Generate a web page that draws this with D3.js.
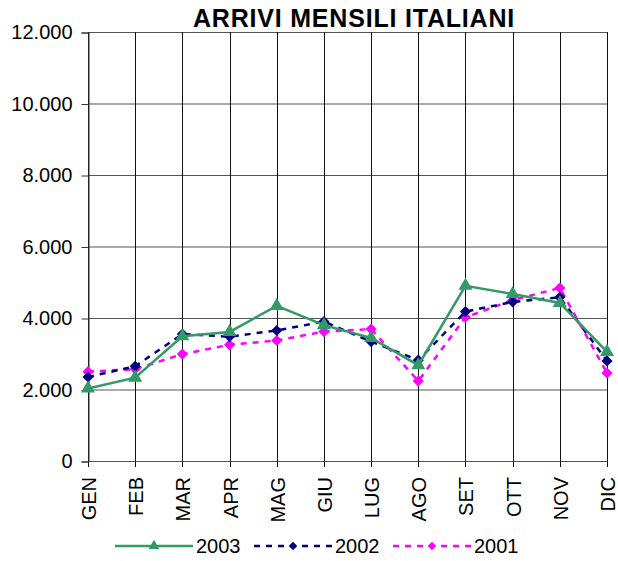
<!DOCTYPE html>
<html><head><meta charset="utf-8">
<script src="https://cdn.jsdelivr.net/npm/d3@7"></script>
<style>body{margin:0;background:#fff}svg{display:block}text{font-family:"Liberation Sans",Arial,sans-serif}</style>
</head><body>
<svg id="c" width="618" height="561"></svg>
<script>
const categories = ["GEN","FEB","MAR","APR","MAG","GIU","LUG","AGO","SET","OTT","NOV","DIC"];
const s2003 = [2030,2330,3490,3610,4340,3800,3440,2680,4900,4670,4420,3050];
const s2002 = [2350,2650,3550,3480,3650,3900,3340,2820,4180,4450,4580,2800];
const s2001 = [2500,2570,2990,3250,3370,3620,3690,2240,4020,4500,4840,2460];
const yTicks = [0,2000,4000,6000,8000,10000,12000];
const title = "ARRIVI MENSILI ITALIANI";

const series = [
  {name:"2003", values:s2003, color:"#339966", dash:null, marker:"tri"},
  {name:"2002", values:s2002, color:"#000080", dash:"6,6", marker:"dia"},
  {name:"2001", values:s2001, color:"#FF00FF", dash:"6,6", marker:"dia"}
];

const svg = d3.select("#c");
const L=88, R=607, T=32, B=461;
const x = d3.scalePoint().domain(categories).range([L,R]);
const y = d3.scaleLinear().domain([0,12000]).range([B,T]);
const fmt = v => d3.format(",")(v).replace(/,/g,".");

svg.append("text").attr("x",354).attr("y",27).attr("text-anchor","middle")
  .attr("font-size",25).attr("letter-spacing","0.8px").attr("font-weight","bold").text(title);

// gridlines
svg.append("g").selectAll("line").data(yTicks).join("line")
  .attr("x1",L).attr("x2",R).attr("y1",d=>y(d)+0.5).attr("y2",d=>y(d)+0.5)
  .attr("stroke","#555").attr("stroke-width",1);
svg.append("g").selectAll("line").data(categories).join("line")
  .attr("x1",d=>Math.round(x(d))+0.5).attr("x2",d=>Math.round(x(d))+0.5)
  .attr("y1",T).attr("y2",B+6).attr("stroke","#111").attr("stroke-width",1);

// y axis
const ya = svg.append("g").attr("transform",`translate(${L+0.5},0.5)`)
  .call(d3.axisLeft(y).tickValues(yTicks).tickFormat(fmt).tickSize(7).tickPadding(9));
ya.select(".domain").attr("stroke","#333");
ya.selectAll(".tick line").attr("stroke","#333");
ya.selectAll("text").attr("font-size",20).attr("fill","#000").attr("font-family","Liberation Sans, Arial, sans-serif");

// x labels
svg.append("g").selectAll("text").data(categories).join("text")
  .attr("transform",d=>`translate(${x(d)+8},${477}) rotate(-90)`)
  .attr("text-anchor","end").attr("font-size",20).text(d=>d);

const line = d3.line().x((d,i)=>x(categories[i])).y(d=>y(d));
const tri = d3.symbol().type(d3.symbolTriangle).size(85);
const sq = d3.symbol().type(d3.symbolSquare).size(62);

// draw in reverse order so 2003 on top
[...series].reverse().forEach(s=>{
  const g = svg.append("g");
  g.append("path").datum(s.values).attr("d",line).attr("fill","none")
    .attr("stroke",s.color).attr("stroke-width",2.5).attr("stroke-dasharray",s.dash);
  g.selectAll("path.m").data(s.values).join("path").attr("class","m")
    .attr("transform",(d,i)=>`translate(${x(categories[i])},${y(d)})` + (s.marker==="dia"?" rotate(45)":""))
    .attr("d", s.marker==="tri"?tri:sq).attr("fill",s.color);
});

// legend
const lx = [115,254,393];
series.forEach((s,i)=>{
  const g = svg.append("g").attr("transform",`translate(${lx[i]},546)`);
  g.append("line").attr("x1",0).attr("x2",78).attr("y1",0).attr("y2",0)
    .attr("stroke",s.color).attr("stroke-width",2.5).attr("stroke-dasharray",s.dash);
  g.append("path").attr("transform","translate(39,0)" + (s.marker==="dia"?" rotate(45)":""))
    .attr("d", (s.marker==="tri"?d3.symbol().type(d3.symbolTriangle).size(50):d3.symbol().type(d3.symbolSquare).size(36))())
    .attr("fill",s.color);
  g.append("text").attr("x",81).attr("y",7).attr("font-size",20).text(s.name);
});
</script>
</body></html>
